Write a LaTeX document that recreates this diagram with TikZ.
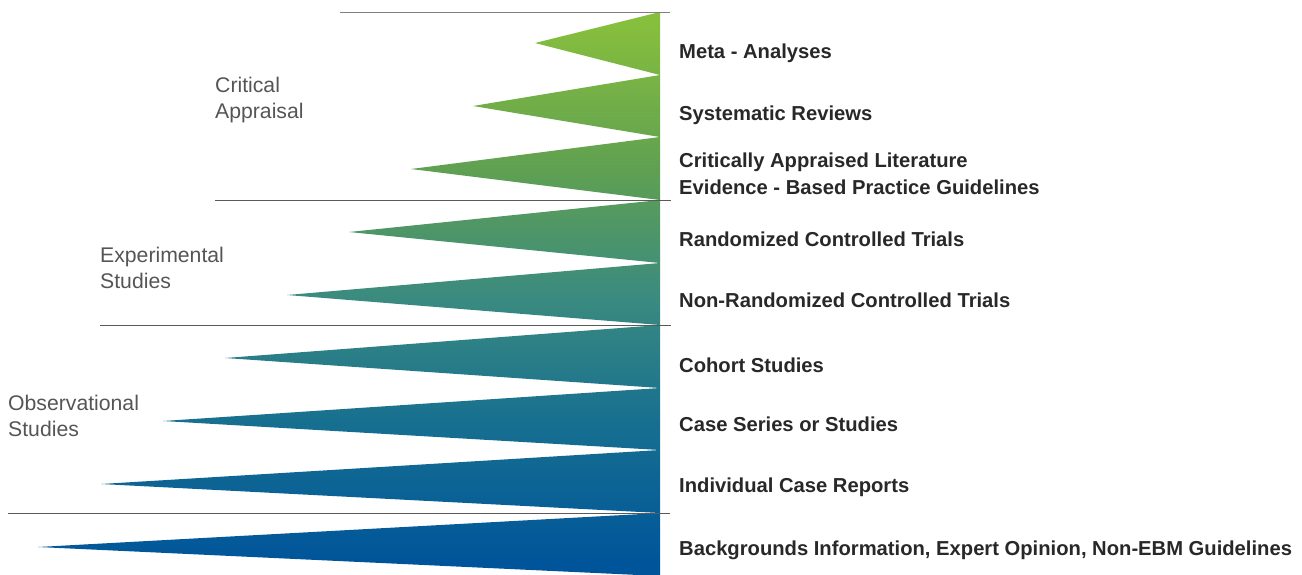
\documentclass[tikz,border=0pt]{standalone}
\usepackage{fontspec}
\setmainfont{Liberation Sans}
\definecolor{evTop}{RGB}{134,190,61}
\definecolor{evUpper}{RGB}{95,160,82}
\definecolor{evMid}{RGB}{59,139,127}
\definecolor{evLower}{RGB}{23,112,144}
\definecolor{evBottom}{RGB}{0,85,154}
\definecolor{levelText}{RGB}{40,40,40}
\definecolor{groupText}{RGB}{85,85,85}
\definecolor{ruleGray}{RGB}{90,90,90}
% vertical colour ramp: the path's box is mapped onto 25bp..75bp
\pgfdeclareverticalshading{evidence}{100bp}{%
  color(0bp)=(evBottom); color(26.3bp)=(evBottom); color(38.8bp)=(evLower);
  color(49.9bp)=(evMid); color(61bp)=(evUpper); color(73.8bp)=(evTop);
  color(100bp)=(evTop)}
\begin{document}
\begin{tikzpicture}[x=1pt,y=-1pt,
  level/.style={anchor=west,inner sep=0pt,font=\fontsize{20.2}{26.5}\selectfont\bfseries,
    text=levelText,align=left},
  group/.style={anchor=west,inner sep=0pt,font=\fontsize{21.2}{26.5}\selectfont,
    text=groupText,align=left},
  divider/.style={draw=ruleGray,line width=0.9pt}]
\useasboundingbox (0,0) rectangle (1302,574);

% the pyramid of wedges, all sharing one vertical colour ramp
\begin{scope}
  \clip (660,12)  -- (535,43)  -- (660,75)  -- cycle
        (660,75)  -- (473,106) -- (660,137) -- cycle
        (660,137) -- (411,169) -- (660,200) -- cycle
        (660,200) -- (349,232) -- (660,263) -- cycle
        (660,263) -- (287,295) -- (660,325) -- cycle
        (660,325) -- (225,358) -- (660,388) -- cycle
        (660,388) -- (163,421) -- (660,450) -- cycle
        (660,450) -- (101,484) -- (660,513) -- cycle
        (660,513) -- (38,547)  -- (660,576) -- cycle;
  \shade[shading=evidence] (30,12) rectangle (661,576);
\end{scope}

% group dividers
\coordinate (d0a) at (340,12);  \coordinate (d0b) at (670,12);
\coordinate (d1a) at (215,200); \coordinate (d1b) at (671,200);
\coordinate (d2a) at (100,325); \coordinate (d2b) at (671,325);
\coordinate (d3a) at (8,513);   \coordinate (d3b) at (670,513);
\draw[divider,draw=gray] (d0a) -- (d0b);
\draw[divider] (d1a) -- (d1b);
\draw[divider] (d2a) -- (d2b);
\draw[divider] (d3a) -- (d3b);

% group names
\node[group] (gCA)  at (215,100) {Critical\\Appraisal};
\node[group] (gES)  at (100,268) {Experimental\\Studies};
\node[group] (gOS)  at (8,416)   {Observational\\Studies};

% evidence levels
\node[level] (l1) at (679,53)  {Meta - Analyses};
\node[level] (l2) at (679,115) {Systematic Reviews};
\node[level] (l3) at (679,174) {Critically Appraised Literature\\Evidence - Based Practice Guidelines};
\node[level] (l4) at (679,239) {Randomized Controlled Trials};
\node[level] (l5) at (679,300) {Non-Randomized Controlled Trials};
\node[level] (l6) at (679,365) {Cohort Studies};
\node[level] (l7) at (679,424) {Case Series or Studies};
\node[level] (l8) at (679,487) {Individual Case Reports};
\node[level] (l9) at (679,550) {Backgrounds Information, Expert Opinion, Non-EBM Guidelines};
\end{tikzpicture}
\end{document}
